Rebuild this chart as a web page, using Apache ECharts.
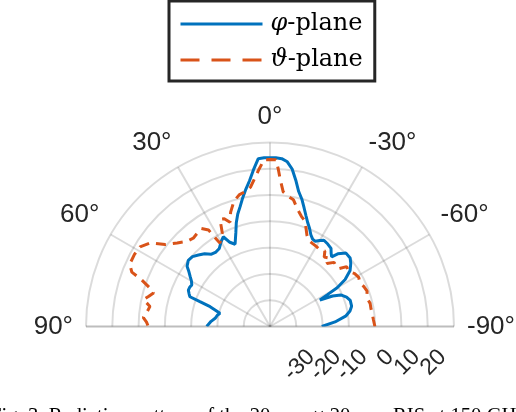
<!DOCTYPE html>
<html>
<head>
<meta charset="utf-8">
<script src="https://cdn.jsdelivr.net/npm/echarts@6/dist/echarts.min.js"></script>
<style>
  html, body { margin: 0; padding: 0; background: #fff; }
  #chart { width: 516px; height: 412px; }
</style>
</head>
<body>
<div id="chart"></div>
<script>
// angles in degrees (0 at top, positive to the left), gain in dB
const phiAngles = [-90, -86, -82, -79, -76, -72, -69, -66, -64, -62, -61, -60, -58, -55, -52, -49.5, -46, -43, -41.5, -40,
  -38, -35, -32, -30, -28, -26, -24, -22, -20, -18, -16, -14, -12, -10, -8, -6, -4, -2, 0,
  2, 4, 6, 8, 10, 12, 14, 16, 18, 20, 23, 25.5, 27.5, 30, 33, 36, 39, 42, 45, 48, 51, 54, 56, 58,
  60, 62, 64, 66, 68, 69.6, 70.5, 71.7, 73.5, 75.2, 78, 81.5, 85, 90]
const phiGain = [-20.3, -15.2, -10.8, -9.0, -8.0, -7.9, -8.8, -10.5, -13.5, -18.5, -15.0, -10.5, -6.3, -2.8, -1.0, 0.1, 0.2, -2.2, -4.6, -3.8,
  -2.3, -1.7, -1.3, -2.2, -3.3, -3.0, -1.8, 0.2, 2.0, 4.3, 7.0, 10.0, 12.5, 16.5, 20.5, 23.0, 24.0, 24.2, 24.2,
  24.2, 24.0, 20.0, 16.0, 13.0, 10.0, 7.0, 4.5, 1.5, -2.0, -6.0, -4.5, -1.5, -2.8, -4.6, -5.0, -4.6, -2.8, -1.5, -0.3, 0.0, -1.0, -2.8, -4.2,
  -5.5, -6.3, -6.0, -6.0, -6.8, -7.5, -11.7, -16.0, -18.5, -20.3, -19.5, -18.9, -17.5, -15.9]

const thetaAngles = [-90, -86, -83, -80, -77, -75, -73, -70, -67, -64, -61, -58, -55, -52, -50, -48, -45, -42, -41, -38,
  -36, -33, -30, -27, -24, -22, -20, -18, -16, -13, -10.5, -8, -5.6, -4, -3, -2, 0,
  2, 4, 6, 8, 10, 13, 16, 19, 21, 23, 25, 27, 29, 31, 32.5, 35, 38, 41, 44, 48, 52, 55, 58.5,
  62, 66, 68.5, 70, 72.3, 74, 76, 78, 80.5, 83.5, 86, 88, 90]
const thetaGain = [-0.1, -0.6, -0.8, -1.0, -0.9, -1.3, -1.5, -0.7, -1.2, -2.0, -1.4, -2.0, -3.5, -3.0, -5.8, -6.0, -5.5, -7.7, -5.5, -6.5,
  -4.5, -5.2, -4.8, -4.5, -4.0, -2.5, 0.0, 2.5, 3.5, 6.0, 9.0, 10.0, 11.5, 16.0, 20.0, 23.5, 23.5,
  23.5, 20.0, 16.5, 13.5, 12.3, 11.5, 9.7, 6.0, 2.5, 4.5, 5.0, 0.0, -1.5, -3.0, 3.5, 5.5, 5.0, 4.5, 5.2, 7.5, 10.6, 15.5, 18.0,
  18.4, 18.4, 16.5, 12.0, 7.9, 6.1, 7.5, 9.2, 6.3, 7.2, 8.3, 7.0, 6.3]

const angleTicks = [-90, -60, -30, 0, 30, 60, 90]
const radiusTicks = [-40, -30, -20, -10, 0, 10, 20, 30]

const caption = 'Fig. 3. Radiation pattern of the 20 mm \u00d7 20 mm RIS at 150 GHz.'

const grid = 'rgba(0,0,0,0.14)'
const gridEdge = 'rgba(0,0,0,0.26)'

let chart = echarts.init(document.getElementById('chart'))

let option = {
    animation: false,
    legend: {
        orient: 'vertical',
        left: 169,
        top: 1,
        padding: [11, 12, 9, 10],
        borderColor: '#262626',
        borderWidth: 3,
        backgroundColor: '#fff',
        itemWidth: 82,
        itemHeight: 14,
        itemGap: 12,
        itemStyle: {opacity: 0},
        lineStyle: {width: 3},
        textStyle: {
            fontFamily: 'DejaVu Serif',
            fontSize: 24,
            color: '#000',
            padding: [0, 0, 0, 3],
            rich: {i: {fontStyle: 'italic', fontFamily: 'DejaVu Serif', fontSize: 24, color: '#000'}}
        },
        formatter: name => '{i|' + name.charAt(0) + '}' + name.slice(1),
        data: [
            {name: 'φ-plane'},
            {name: 'ϑ-plane', lineStyle: {width: 3, type: [19, 12]}}
        ]
    },
    polar: {center: [270, 326.5], radius: 184},
    angleAxis: {
        type: 'value',
        min: angleTicks[0],
        max: angleTicks[angleTicks.length - 1],
        interval: 30,
        startAngle: 0,
        endAngle: 180,
        clockwise: false,
        axisLine: {show: false},
        axisTick: {show: false},
        axisLabel: {
            margin: 13,
            fontFamily: 'Liberation Sans',
            fontSize: 26,
            color: '#262626',
            formatter: v => v + '°'
        },
        splitLine: {
            show: true,
            lineStyle: {
                width: 2,
                color: angleTicks.map(t => Math.abs(t) === 90 ? gridEdge : grid)
            }
        }
    },
    radiusAxis: {
        type: 'value',
        min: radiusTicks[0],
        max: radiusTicks[radiusTicks.length - 1],
        interval: 10,
        axisLine: {show: false},
        axisTick: {show: false},
        axisLabel: {
            rotate: 45,
            margin: -12,
            align: 'right',
            verticalAlign: 'middle',
            padding: [42, 0, 0, 0],
            color: '#262626',
            formatter: v => (v === radiusTicks[0] || v === radiusTicks[radiusTicks.length - 1]) ? '' : '{r|' + v + '}',
            rich: {r: {fontFamily: 'Liberation Sans', fontSize: 23, color: '#262626'}}
        },
        splitLine: {show: true, lineStyle: {width: 2, color: grid}}
    },
    graphic: [{
        type: 'text',
        left: -10,
        top: 406,
        style: {text: caption, fontFamily: 'Liberation Serif', fontSize: 20.7, fill: '#000'}
    }],
    series: [
        {
            name: 'φ-plane',
            type: 'line',
            coordinateSystem: 'polar',
            symbol: 'none',
            lineStyle: {width: 3, color: '#0072BD'},
            itemStyle: {color: '#0072BD'},
            data: phiAngles.map((a, i) => [phiGain[i], a])
        },
        {
            name: 'ϑ-plane',
            type: 'line',
            coordinateSystem: 'polar',
            symbol: 'none',
            lineStyle: {width: 3, color: '#D95319', type: [10, 7]},
            itemStyle: {color: '#D95319'},
            data: thetaAngles.map((a, i) => [thetaGain[i], a])
        }
    ]
}

chart.setOption(option)
</script>
</body>
</html>
